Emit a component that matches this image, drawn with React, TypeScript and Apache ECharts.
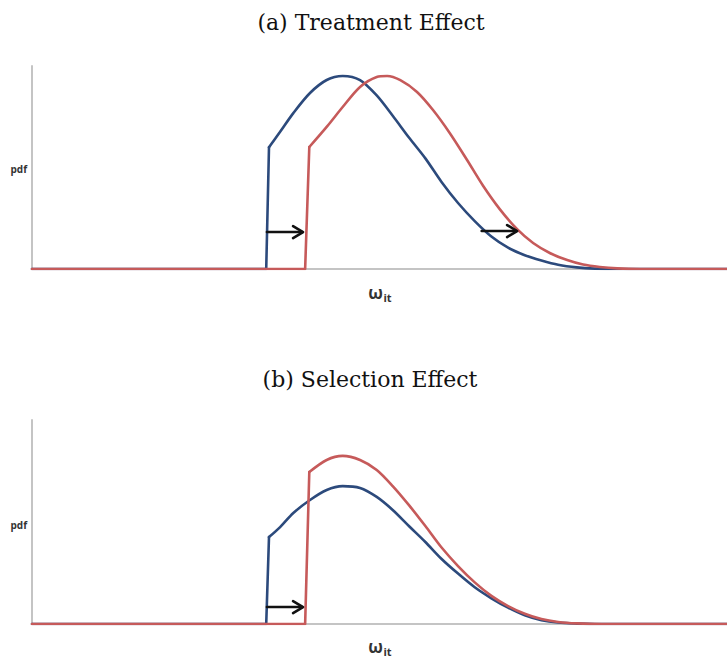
import React, { useEffect, useRef } from "react";
import * as echarts from "echarts";

// x: position along ω_it axis (0..100), y: pdf height (0..100)
const topBlue: number[][] = [[0,0],[33.7,0],[34.1,60.0],[35.7,67.6],[37.6,76.8],[40.0,86.7],[42.4,93.1],[44.7,95.1],[47.2,93.1],[49.6,85.5],[51.9,75.5],[54.3,64.5],[56.6,54.5],[58.9,43.0],[61.3,32.5],[63.7,23.6],[66.1,16.0],[68.5,10.5],[70.9,6.8],[73.3,4.2],[75.7,2.1],[78.4,0.8],[81.0,0.2],[84.0,0],[100,0]];
const topRed: number[][] = [[0,0],[39.3,0],[39.9,60.1],[42.4,70.0],[44.7,79.8],[47.2,89.7],[49.6,94.6],[51.1,95.1],[53.0,93.0],[55.4,87.2],[57.7,78.3],[60.1,67.0],[62.6,53.7],[64.9,41.0],[67.3,29.5],[69.8,19.6],[72.1,12.8],[74.5,7.9],[77.0,4.4],[79.3,2.2],[81.7,1.0],[84.2,0.3],[87.5,0],[100,0]];
const bottomBlue: number[][] = [[0,0],[33.7,0],[34.1,42.6],[35.7,47.5],[37.6,54.4],[40.0,60.8],[42.4,65.7],[44.7,67.6],[47.2,66.7],[49.6,62.3],[51.9,55.9],[54.3,47.8],[56.6,40.2],[58.9,32.0],[61.3,24.7],[63.7,18.0],[66.1,12.6],[68.5,8.0],[70.9,4.3],[73.3,1.9],[75.7,0.7],[78.4,0.2],[81.0,0],[100,0]];
const bottomRed: number[][] = [[0,0],[39.3,0],[39.9,74.5],[42.4,80.4],[44.7,82.4],[47.2,80.4],[49.6,75.5],[51.9,67.6],[54.3,58.0],[56.6,48.0],[58.9,37.6],[61.3,28.4],[63.7,20.4],[66.1,13.8],[68.5,8.8],[70.9,5.0],[73.3,2.4],[75.7,1.0],[78.4,0.3],[82.0,0],[100,0]];
// arrows: [xStart, xEnd, y]
const topArrows: number[][] = [[33.8, 39.0, 18.2], [64.7, 69.8, 18.7]];
const bottomArrows: number[][] = [[33.8, 39.0, 8.3]];

const titles = ["(a) Treatment Effect", "(b) Selection Effect"];
const yLabel = "pdf";

const BLUE = "#2c4a7c";
const RED = "#c65a5a";
const AXIS = "#c4c4c4";

export default function App() {
  const ref = useRef<HTMLDivElement>(null);
  useEffect(() => {
    const chart = echarts.init(ref.current!, null, { renderer: "svg" });
    const arrowRender = (params: any, api: any) => {
      const a = api.coord([api.value(0), api.value(2)]);
      const b = api.coord([api.value(1), api.value(2)]);
      const style = { stroke: "#111", lineWidth: 2.6, fill: "none", lineCap: "round", lineJoin: "round" };
      return {
        type: "group",
        children: [
          { type: "line", shape: { x1: a[0], y1: a[1], x2: b[0] - 1, y2: b[1] }, style },
          { type: "polyline", shape: { points: [[b[0] - 10, b[1] - 6], [b[0], b[1]], [b[0] - 10, b[1] + 6]] }, style },
        ],
      };
    };
    const xAx = (gi: number) => ({
      type: "value", gridIndex: gi, min: 0, max: 100,
      axisLine: { show: true, lineStyle: { color: AXIS, width: 2 } },
      axisTick: { show: false }, axisLabel: { show: false }, splitLine: { show: false },
    });
    const yAx = (gi: number) => ({
      type: "value", gridIndex: gi, min: 0, max: 100,
      axisLine: { show: true, onZero: false, lineStyle: { color: AXIS, width: 2 } },
      axisTick: { show: false }, axisLabel: { show: false }, splitLine: { show: false },
    });
    // split each curve at the top of its jump: straight part before, smooth part after
    const jumpIndex = (data: number[][]) => data.findIndex((p, i) => i > 0 && p[1] > 0);
    const curve = (data: number[][], color: string, gi: number, z: number) => {
      const j = jumpIndex(data);
      const base = { type: "line", xAxisIndex: gi, yAxisIndex: gi, showSymbol: false, symbol: "none", lineStyle: { color, width: 2.6, cap: "round", join: "round" }, z, silent: true };
      return [
        { ...base, data: data.slice(0, j + 1), smooth: false },
        { ...base, data: data.slice(j), smooth: 0.3 },
      ];
    };
    const omega = (cy: number) => [
      { type: "text", x: 383, y: cy, style: { text: "ω", font: "bold 17px 'Open Sans'", fill: "#333", align: "right", verticalAlign: "middle" } },
      { type: "text", x: 383.5, y: cy + 5, style: { text: "it", font: "bold 11px 'Open Sans'", fill: "#333", align: "left", verticalAlign: "middle" } },
    ];
    chart.setOption({
      animation: false,
      grid: [
        { left: 32, top: 66, width: 695, height: 203 },
        { left: 32, top: 420, width: 695, height: 204 },
      ],
      xAxis: [xAx(0), xAx(1)],
      yAxis: [yAx(0), yAx(1)],
      series: [
        ...curve(topBlue, BLUE, 0, 2),
        ...curve(topRed, RED, 0, 3),
        ...curve(bottomBlue, BLUE, 1, 2),
        ...curve(bottomRed, RED, 1, 3),
        { type: "custom", xAxisIndex: 0, yAxisIndex: 0, data: topArrows, encode: { x: [0, 1], y: 2 }, renderItem: arrowRender, z: 4, silent: true },
        { type: "custom", xAxisIndex: 1, yAxisIndex: 1, data: bottomArrows, encode: { x: [0, 1], y: 2 }, renderItem: arrowRender, z: 4, silent: true },
      ],
      graphic: [
        { type: "text", x: 371, y: 22, style: { text: titles[0], font: "22px 'DejaVu Serif'", fill: "#111", align: "center", verticalAlign: "middle" } },
        { type: "text", x: 370, y: 379, style: { text: titles[1], font: "22px 'DejaVu Serif'", fill: "#111", align: "center", verticalAlign: "middle" } },
        { type: "text", x: 27, y: 169, style: { text: yLabel, font: "bold 10px 'Open Sans'", fill: "#333", align: "right", verticalAlign: "middle" } },
        { type: "text", x: 27, y: 525, style: { text: yLabel, font: "bold 10px 'Open Sans'", fill: "#333", align: "right", verticalAlign: "middle" } },
        ...omega(292),
        ...omega(646),
      ],
    });
    return () => chart.dispose();
  }, []);
  return <div ref={ref} style={{ position: "fixed", left: 0, top: 0, width: 727, height: 657, background: "#fff" }} />;
}
